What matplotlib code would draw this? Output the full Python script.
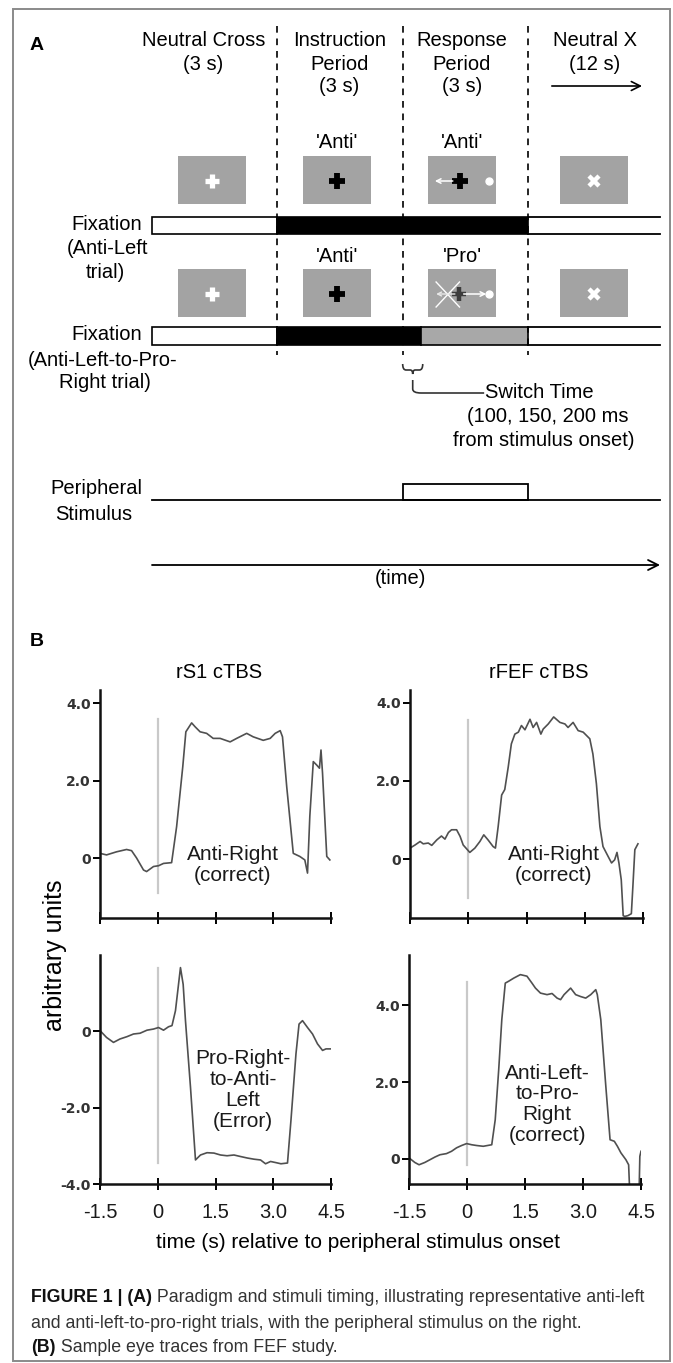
import matplotlib
matplotlib.use("Agg")
import matplotlib.pyplot as plt
from matplotlib.patches import Rectangle, PathPatch
from matplotlib.path import Path

W, H, DPI = 673, 1363, 100

# ---------------- Panel A: schematic timing ----------------
period_names = [["Neutral Cross", "(3 s)"],
                ["Instruction", "Period", "(3 s)"],
                ["Response", "Period", "(3 s)"],
                ["Neutral X", "(12 s)"]]
period_bounds = [3, 6, 9]            # s, dashed boundaries
cues_anti_left = ["", "'Anti'", "'Anti'", ""]
cues_switch = ["", "'Anti'", "'Pro'", ""]
switch_at = 6.44                     # s, schematic switch point
stim_window = [6, 9]                 # peripheral stimulus on/off (s)
timeline_end = 12.16                 # s, where drawing is cut

# ---------------- Panel B: eye traces ----------------
t_rs1_anti = [-1.50, -1.33, -1.07, -0.81, -0.68, -0.55, -0.37, -0.29, -0.11, 0.02,
              0.15, 0.36, 0.49, 0.65, 0.73, 0.88, 0.97, 1.10, 1.27, 1.44,
              1.62, 1.88, 2.05, 2.31, 2.48, 2.74, 2.92, 3.05, 3.18, 3.24,
              3.35, 3.52, 3.69, 3.82, 3.89, 3.95, 4.04, 4.13, 4.20, 4.24,
              4.28, 4.39, 4.47]
v_rs1_anti = [0.12, 0.08, 0.16, 0.22, 0.19, 0.00, -0.31, -0.35, -0.22, -0.20,
              -0.14, -0.12, 0.81, 2.36, 3.26, 3.49, 3.39, 3.26, 3.22, 3.09,
              3.09, 3.00, 3.09, 3.22, 3.13, 3.04, 3.09, 3.22, 3.29, 3.13,
              1.84, 0.12, 0.04, -0.05, -0.39, 1.08, 2.49, 2.40, 2.32, 2.79,
              2.19, 0.04, -0.05]

t_fef_anti = [-1.50, -1.37, -1.24, -1.16, -1.03, -0.94, -0.81, -0.69, -0.60, -0.51,
              -0.43, -0.30, -0.21, -0.13, 0.04, 0.17, 0.30, 0.40, 0.51, 0.64,
              0.70, 0.77, 0.86, 0.94, 1.03, 1.11, 1.20, 1.29, 1.37, 1.46,
              1.59, 1.67, 1.76, 1.87, 1.93, 2.06, 2.20, 2.36, 2.49, 2.57,
              2.70, 2.83, 2.96, 3.13, 3.21, 3.30, 3.39, 3.47, 3.60, 3.69,
              3.77, 3.83, 3.88, 3.94, 3.99, 4.03, 4.11, 4.20, 4.24, 4.29,
              4.37]
v_fef_anti = [0.28, 0.36, 0.45, 0.39, 0.41, 0.35, 0.49, 0.59, 0.51, 0.68,
              0.75, 0.75, 0.58, 0.36, 0.17, 0.28, 0.45, 0.62, 0.49, 0.32,
              0.28, 0.83, 1.64, 1.78, 2.36, 2.95, 3.20, 3.25, 3.42, 3.31,
              3.58, 3.37, 3.50, 3.20, 3.33, 3.46, 3.64, 3.50, 3.46, 3.37,
              3.50, 3.29, 3.25, 3.08, 2.69, 1.93, 0.83, 0.32, 0.07, -0.10,
              -0.02, 0.17, -0.10, -0.53, -1.45, -1.47, -1.45, -1.40, -0.69, 0.24,
              0.39]

t_rs1_err = [-1.50, -1.33, -1.15, -0.98, -0.80, -0.63, -0.46, -0.28, -0.11, 0.02,
             0.15, 0.28, 0.37, 0.46, 0.59, 0.66, 0.72, 0.85, 0.98, 1.11,
             1.28, 1.46, 1.63, 1.80, 1.98, 2.15, 2.33, 2.50, 2.67, 2.80,
             2.93, 3.07, 3.20, 3.37, 3.46, 3.59, 3.67, 3.76, 3.89, 4.02,
             4.15, 4.28, 4.37, 4.50]
v_rs1_err = [0.02, -0.16, -0.29, -0.20, -0.14, -0.07, -0.05, 0.03, 0.06, 0.10,
             0.03, 0.12, 0.15, 0.54, 1.67, 1.23, 0.28, -1.46, -3.37, -3.24,
             -3.18, -3.19, -3.24, -3.26, -3.24, -3.28, -3.32, -3.35, -3.37, -3.47,
             -3.41, -3.44, -3.47, -3.45, -2.33, -0.59, 0.19, 0.28, 0.10, -0.07,
             -0.33, -0.50, -0.46, -0.46]

t_fef_switch = [-1.50, -1.35, -1.24, -1.09, -0.96, -0.83, -0.70, -0.53, -0.40, -0.27,
                -0.14, -0.01, 0.12, 0.25, 0.42, 0.64, 0.73, 0.82, 0.90, 0.99,
                1.08, 1.21, 1.38, 1.55, 1.68, 1.77, 1.90, 2.07, 2.20, 2.33,
                2.42, 2.51, 2.68, 2.81, 2.94, 3.07, 3.20, 3.33, 3.37, 3.46,
                3.59, 3.70, 3.81, 3.89, 3.98, 4.11, 4.18, 4.21, 4.45, 4.47,
                4.50]
v_fef_switch = [0.03, -0.09, -0.15, -0.09, -0.02, 0.05, 0.11, 0.14, 0.20, 0.29,
                0.35, 0.40, 0.37, 0.35, 0.33, 0.37, 1.02, 2.32, 3.62, 4.57,
                4.62, 4.70, 4.79, 4.75, 4.57, 4.44, 4.31, 4.27, 4.30, 4.18,
                4.14, 4.27, 4.44, 4.27, 4.22, 4.18, 4.27, 4.40, 4.27, 3.62,
                1.89, 0.50, 0.46, 0.33, 0.16, -0.02, -0.15, -0.90, -0.90, 0.07,
                0.20]

col_titles = ["rS1 cTBS", "rFEF cTBS"]
trace_labels = ["Anti-Right\n(correct)", "Anti-Right\n(correct)",
                "Pro-Right-\nto-Anti-\nLeft\n(Error)", "Anti-Left-\nto-Pro-\nRight\n(correct)"]
x_ticks = [-1.5, 0, 1.5, 3.0, 4.5]
x_ticklabels = ["-1.5", "0", "1.5", "3.0", "4.5"]
y_ticks_top = [0, 2, 4]
y_ticklabels_top = ["0", "2.0", "4.0"]
y_ticks_ll = [-4, -2, 0]
y_ticklabels_ll = ["-4.0", "-2.0", "0"]
onset_marker_spans = [(-0.9, 3.6), (-1.0, 3.55), (-3.45, 1.65), (-0.15, 4.6)]

caption_l1 = ("FIGURE 1 | (A)", " Paradigm and stimuli timing, illustrating representative anti-left")
caption_l2 = "and anti-left-to-pro-right trials, with the peripheral stimulus on the right."
caption_l3 = ("(B)", " Sample eye traces from FEF study.")

# ---------------- figure ----------------
FONT = "Liberation Sans"
plt.rcParams["font.family"] = [FONT, "DejaVu Sans"]
fig = plt.figure(figsize=(W / DPI, H / DPI), dpi=DPI)
fig.patch.set_facecolor("white")


def fbox(left, top, right, bottom):
    return [left / W, 1 - bottom / H, (right - left) / W, (bottom - top) / H]


# overlay in pixel coordinates
ov = fig.add_axes([0, 0, 1, 1])
ov.set_xlim(0, W)
ov.set_ylim(H, 0)
ov.axis("off")
ov.add_patch(Rectangle((13, 9), 657, 1352, fill=False, ec="#8a8a8a", lw=1.4))

# schematic axes: x in seconds, y in pixels
X0, PXS = 152.0, 41.78
sa = fig.add_axes([0, 0, 1, 1])
sa.set_xlim(-X0 / PXS, (W - X0) / PXS)
sa.set_ylim(H, 0)
sa.axis("off")
sa.patch.set_alpha(0)

TS = 14.5
ov.text(37, 45, "A", fontsize=14, weight="bold", ha="center", va="center")
ov.text(37, 642, "B", fontsize=14, weight="bold", ha="center", va="center")

header_x = [1.23, 4.48, 7.42, 10.6]
header_rows = [41, 64, 87]
for hx, lines in zip(header_x, period_names):
    for i, ln in enumerate(lines):
        sa.text(hx, header_rows[i], ln, fontsize=TS, ha="center", va="center")
sa.annotate("", xy=(11.73, 86), xytext=(9.57, 86),
            arrowprops=dict(arrowstyle="->", lw=1.2, color="black",
                            shrinkA=0, shrinkB=0, mutation_scale=16))

for b in period_bounds:
    sa.plot([b, b], [26, 355], color="black", lw=1.2, ls=(0, (4, 3.5)))

sq_centres = [1.43, 4.42, 7.42, 10.59]
sq_w = 68 / PXS
rows = [(156, 204, cues_anti_left), (269, 317, cues_switch)]
for (y0, y1, cues) in rows:
    for c, cue in zip(sq_centres, cues):
        sa.add_patch(Rectangle((c - sq_w / 2, y0), sq_w, y1 - y0, fc="#a3a3a3", ec="none"))
        if cue:
            sa.text(c, y0 - 13, cue, fontsize=TS, ha="center", va="center")

# icons
yc1, yc2 = 181, 294
for yc in (yc1, yc2):
    sa.plot(sq_centres[0], yc, marker="+", ms=10, mew=3.8, color="white")
    sa.plot(sq_centres[1], yc, marker="+", ms=11, mew=4.2, color="black")
    sa.plot(sq_centres[3], yc, marker="x", ms=7.5, mew=3.2, color="white")
sa.annotate("", xy=(6.77, yc1), xytext=(7.2, yc1),
            arrowprops=dict(arrowstyle="->", lw=1.1, color="white", shrinkA=0, shrinkB=0,
                            mutation_scale=8))
sa.plot(7.37, yc1, marker="+", ms=11, mew=4.2, color="black")
sa.plot(8.07, yc1, marker="o", ms=5, color="white")
# switch-trial response icon
sa.annotate("", xy=(6.8, yc2), xytext=(7.25, yc2),
            arrowprops=dict(arrowstyle="->", lw=1.0, color="#e8e8e8", shrinkA=0, shrinkB=0,
                            mutation_scale=7))
sa.plot([6.8, 7.36], [282, 307], color="white", lw=1.0)
sa.plot([6.8, 7.36], [307, 282], color="white", lw=1.0)
sa.plot(7.35, yc2, marker="+", ms=10, mew=3.2, color="#3c3c3c")
sa.annotate("", xy=(8.0, yc2), xytext=(7.46, yc2),
            arrowprops=dict(arrowstyle="->", lw=1.1, color="white", shrinkA=0, shrinkB=0,
                            mutation_scale=8))
sa.plot(8.07, yc2, marker="o", ms=5, color="white")


# fixation bars
def open_lines(y0, y1):
    sa.plot([period_bounds[2], timeline_end], [y0, y0], color="black", lw=1.3)
    sa.plot([period_bounds[2], timeline_end], [y1, y1], color="black", lw=1.3)


b1 = (217, 234)
sa.add_patch(Rectangle((0, b1[0]), period_bounds[0], b1[1] - b1[0], fc="white", ec="black", lw=1.2))
sa.add_patch(Rectangle((period_bounds[0], b1[0]), period_bounds[2] - period_bounds[0], b1[1] - b1[0],
                       fc="black", ec="black", lw=1.2))
open_lines(*b1)

b2 = (327, 345)
sa.add_patch(Rectangle((0, b2[0]), period_bounds[0], b2[1] - b2[0], fc="white", ec="black", lw=1.2))
sa.add_patch(Rectangle((period_bounds[0], b2[0]), switch_at - period_bounds[0], b2[1] - b2[0],
                       fc="black", ec="black", lw=1.2))
sa.add_patch(Rectangle((switch_at, b2[0]), period_bounds[2] - switch_at, b2[1] - b2[0],
                       fc="#a8a8a8", ec="black", lw=1.2))
open_lines(*b2)

lab_x = (142 - X0) / PXS
sa.text(lab_x, 225, "Fixation", fontsize=TS, ha="right", va="center")
sa.text((107 - X0) / PXS, 248, "(Anti-Left", fontsize=TS, ha="center", va="center")
sa.text((105 - X0) / PXS, 272, "trial)", fontsize=TS, ha="center", va="center")
sa.text(lab_x, 334, "Fixation", fontsize=TS, ha="right", va="center")
sa.text((103 - X0) / PXS, 360, "(Anti-Left-to-Pro-", fontsize=TS, ha="center", va="center")
sa.text((105 - X0) / PXS, 383, "Right trial)", fontsize=TS, ha="center", va="center")

# brace + connector for switch time
bx0, bx1 = period_bounds[1], switch_at + 0.04
bm = (bx0 + bx1) / 2
brace = Path([(bx0, 364), (bx0, 370), (bx0 + 0.08, 370), (bm - 0.06, 370),
              (bm, 370), (bm, 374), (bm, 370), (bm + 0.06, 370),
              (bx1 - 0.08, 370), (bx1, 370), (bx1, 364)],
             [Path.MOVETO, Path.CURVE3, Path.CURVE3, Path.LINETO,
              Path.CURVE3, Path.CURVE3, Path.CURVE3, Path.CURVE3,
              Path.LINETO, Path.CURVE3, Path.CURVE3])
sa.add_patch(PathPatch(brace, fc="none", ec="#333333", lw=1.2))
conn = Path([(bm, 380), (bm, 389), (bm, 393), (bm + 0.2, 393), (7.95, 393)],
            [Path.MOVETO, Path.LINETO, Path.CURVE3, Path.CURVE3, Path.LINETO])
sa.add_patch(PathPatch(conn, fc="none", ec="#333333", lw=1.2))
sa.text(7.98, 393, "Switch Time", fontsize=TS, ha="left", va="center")
sa.text((548 - X0) / PXS, 417, "(100, 150, 200 ms", fontsize=TS, ha="center", va="center")
sa.text((544 - X0) / PXS, 441, "from stimulus onset)", fontsize=TS, ha="center", va="center")

# peripheral stimulus
sa.plot([0, timeline_end], [500, 500], color="black", lw=1.3)
sa.add_patch(Rectangle((stim_window[0], 484), stim_window[1] - stim_window[0], 16,
                       fill=False, ec="black", lw=1.3))
sa.text(lab_x, 489, "Peripheral", fontsize=TS, ha="right", va="center")
sa.text((94 - X0) / PXS, 515, "Stimulus", fontsize=TS, ha="center", va="center")

# time arrow
sa.annotate("", xy=(timeline_end, 565), xytext=(0, 565),
            arrowprops=dict(arrowstyle="->", lw=1.3, color="black",
                            shrinkA=0, shrinkB=0, mutation_scale=18))
sa.text((400 - X0) / PXS, 579, "(time)", fontsize=TS, ha="center", va="center")

# ---------------- Panel B ----------------
axes_px = [(100, 690, 331, 918), (410, 690, 643, 918),
           (100, 955, 331, 1184), (409, 955, 641, 1184)]
ylims = [(-1.55, 4.34), (-1.51, 4.33), (-4.0, 2.0), (-0.65, 5.3)]
traces = [(t_rs1_anti, v_rs1_anti), (t_fef_anti, v_fef_anti),
          (t_rs1_err, v_rs1_err), (t_fef_switch, v_fef_switch)]
label_pos = [(1.95, -0.18), (2.20, -0.15), (2.21, -1.54), (2.07, 1.42)]
yt = [(y_ticks_top, y_ticklabels_top), (y_ticks_top, y_ticklabels_top),
      (y_ticks_ll, y_ticklabels_ll), (y_ticks_top, y_ticklabels_top)]

for i in range(4):
    l, t, r, b = axes_px[i]
    ax = fig.add_axes(fbox(l, t, r, b))
    ax.patch.set_alpha(0)
    ax.set_xlim(-1.5, 4.5)
    ax.set_ylim(*ylims[i])
    for s in ("top", "right"):
        ax.spines[s].set_visible(False)
    for s in ("left", "bottom"):
        ax.spines[s].set_linewidth(1.8)
        ax.spines[s].set_color("#111111")
    lo, hi = onset_marker_spans[i]
    ax.plot([0, 0], [lo, hi], color="#c9c9c9", lw=1.6)
    tt, vv = traces[i]
    ax.plot(tt, vv, color="#505050", lw=1.2)
    ax.text(label_pos[i][0], label_pos[i][1], trace_labels[i], fontsize=15,
            ha="center", va="center", linespacing=1.12, color="#1a1a1a")
    ax.set_xticks(x_ticks)
    ax.set_yticks(yt[i][0])
    ax.set_yticklabels(yt[i][1], fontsize=10, family="DejaVu Sans", weight="bold",
                       color="#333333")
    ax.tick_params(axis="y", direction="out", length=5, width=1.4, pad=1.5)
    ax.tick_params(axis="x", direction="inout", length=8, width=1.4, pad=10)
    if i >= 2:
        ax.set_xticklabels(x_ticklabels, fontsize=14.5, color="#1a1a1a")
    else:
        ax.set_xticklabels([])

ov.text(219, 672, col_titles[0], fontsize=TS, ha="center", va="center")
ov.text(539, 672, col_titles[1], fontsize=TS, ha="center", va="center")
ov.text(55, 955, "arbitrary units", fontsize=18, rotation=90, ha="center", va="center")
ov.text(358, 1242, "time (s) relative to peripheral stimulus onset", fontsize=15,
        ha="center", va="center")

# caption
CS = 12.8
cap1 = ov.text(31, 1298, caption_l1[0], fontsize=CS, weight="bold", ha="left", va="center",
               color="#111111")
ov.annotate(caption_l1[1], xy=(1, 0.5), xycoords=cap1, fontsize=CS, ha="left", va="center",
            color="#333333")
ov.text(31, 1324, caption_l2, fontsize=CS, ha="left", va="center", color="#333333")
cap3 = ov.text(31, 1348, caption_l3[0], fontsize=CS, weight="bold", ha="left", va="center",
               color="#111111")
ov.annotate(caption_l3[1], xy=(1, 0.5), xycoords=cap3, fontsize=CS, ha="left", va="center",
            color="#333333")

fig.savefig("out.png", dpi=DPI, facecolor="white")
